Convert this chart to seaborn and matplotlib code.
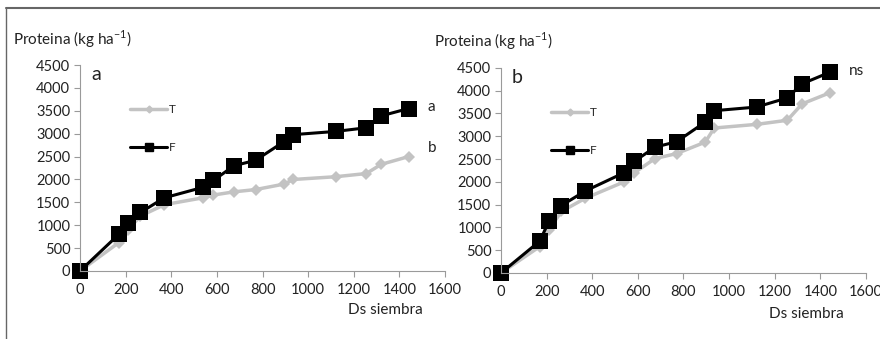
import pandas as pd
import matplotlib.pyplot as plt
import seaborn as sns
from matplotlib.lines import Line2D

# days after sowing
dias = [0, 170, 210, 265, 370, 540, 585, 675, 770, 895, 935, 1120, 1255, 1320, 1440]

# panel a
a_T = [0, 620, 900, 1200, 1450, 1600, 1660, 1730, 1780, 1900, 2000, 2060, 2130, 2330, 2500]
a_F = [0, 800, 1050, 1280, 1600, 1830, 1980, 2300, 2420, 2830, 2980, 3050, 3130, 3390, 3550]

# panel b
b_T = [0, 580, 950, 1350, 1640, 2000, 2200, 2510, 2620, 2870, 3180, 3260, 3350, 3710, 3950]
b_F = [0, 700, 1130, 1480, 1800, 2200, 2450, 2760, 2880, 3310, 3560, 3640, 3840, 4150, 4400]

paneles = ['a', 'b']
xticks = [0, 200, 400, 600, 800, 1000, 1200, 1400, 1600]
yticks = [0, 500, 1000, 1500, 2000, 2500, 3000, 3500, 4000, 4500]

sns.set_style('white')
plt.rcParams['font.family'] = ['Lato', 'DejaVu Sans']
plt.rcParams['mathtext.fontset'] = 'custom'
plt.rcParams['mathtext.rm'] = 'Lato'

fig = plt.figure(figsize=(8.8, 3.39), dpi=100)
ax1 = fig.add_axes([0.0909, 0.2006, 0.4148, 0.6074])
ax2 = fig.add_axes([0.5693, 0.1947, 0.4148, 0.6052])

gris = '#c3c3c3'
eje = '#9a9a9a'
txt = '#222222'

datos = [(ax1, a_T, a_F), (ax2, b_T, b_F)]
for i, (ax, t, f) in enumerate(datos):
    df = pd.DataFrame({'x': dias * 2, 'y': t + f,
                       'trat': ['T'] * len(dias) + ['F'] * len(dias)})
    sns.lineplot(data=df[df.trat == 'T'], x='x', y='y', ax=ax, color=gris,
                 lw=2.5, marker='D', markersize=6, markeredgewidth=0, sort=False)
    sns.lineplot(data=df[df.trat == 'F'], x='x', y='y', ax=ax, color='black',
                 lw=2.2, marker='s', markersize=11, markeredgewidth=0, sort=False)
    ax.set_xlim(0, 1600)
    ax.set_ylim(0, 4500)
    ax.set_xticks(xticks)
    ax.set_yticks(yticks)
    ax.tick_params(axis='both', labelsize=10.5, colors=eje, labelcolor=txt,
                   direction='out', length=4, width=0.8, bottom=True, left=True)
    ax.tick_params(axis='x', pad=5)
    ax.tick_params(axis='y', pad=3)
    ax.set_ylabel('')
    for s in ['top', 'right']:
        ax.spines[s].set_visible(False)
    for s in ['left', 'bottom']:
        ax.spines[s].set_color(eje)
        ax.spines[s].set_linewidth(0.8)
    for ln in ax.lines:
        ln.set_clip_on(False)

    # panel letter
    ax.text(0.03, 0.955, paneles[i], transform=ax.transAxes, fontsize=14,
            va='center', ha='left', color=txt)
    # legend
    hT = Line2D([], [], color=gris, lw=2.5, marker='D', markersize=3.5)
    hF = Line2D([], [], color='black', lw=2.2, marker='s', markersize=5.5)
    ax.legend([hT, hF], ['T', 'F'], loc='center left', bbox_to_anchor=(0.12, 0.69),
              frameon=False, fontsize=8.5, handlelength=3.2, handletextpad=0.15,
              labelspacing=2.3, borderpad=0)
    ax.set_xlabel('Ds siembra', fontsize=11, color=txt)

ax1.xaxis.set_label_coords(0.836, -0.155)
ax2.xaxis.set_label_coords(0.838, -0.165)

# significance letters
ax1.text(1525, 3580, 'a', fontsize=11, ha='left', va='center', color=txt)
ax1.text(1525, 2680, 'b', fontsize=11, ha='left', va='center', color=txt)
ax2.text(1525, 4420, 'ns', fontsize=11, ha='left', va='center', color=txt)

# y axis titles on top
fig.text(13 / 880, 1 - 39 / 339, 'Proteina (kg ha$^{-1}$)', fontsize=11,
         ha='left', va='center', color=txt)
fig.text(434 / 880, 1 - 41 / 339, 'Proteina (kg ha$^{-1}$)', fontsize=11,
         ha='left', va='center', color=txt)

# frame lines (top and left)
fig.add_artist(Line2D([6 / 880, 1], [1 - 8 / 339, 1 - 8 / 339], color='#666666',
                      lw=1.5, transform=fig.transFigure))
fig.add_artist(Line2D([6 / 880, 6 / 880], [0, 1 - 8 / 339], color='#666666',
                      lw=1.0, transform=fig.transFigure))

fig.savefig('out.png', dpi=100)
